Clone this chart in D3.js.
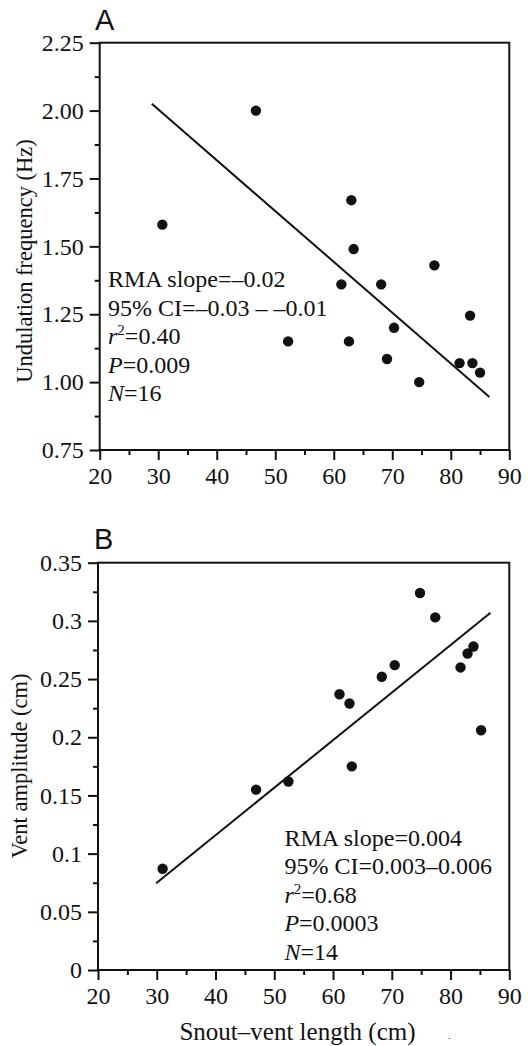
<!DOCTYPE html>
<html>
<head>
<meta charset="utf-8">
<script src="https://cdn.jsdelivr.net/npm/d3@7"></script>
<style>
  body { margin: 0; background: #fff; }
  svg { display: block; }
</style>
</head>
<body>
<div id="chart"></div>
<script>
// Data_______________________________________________________
const svlA = [30.7, 46.7, 52.2, 61.3, 62.6, 63.0, 63.4, 68.1, 69.1, 70.3, 74.6, 77.2, 81.5, 83.3, 83.7, 85.0];
const freqA = [1.58, 2.00, 1.15, 1.36, 1.15, 1.67, 1.49, 1.36, 1.085, 1.20, 1.00, 1.43, 1.07, 1.245, 1.07, 1.035];
const fitA = [[28.9, 2.025], [86.6, 0.945]];

const svlB = [31.0, 46.9, 52.4, 61.1, 62.8, 63.2, 68.3, 70.5, 74.8, 77.4, 81.7, 82.9, 83.9, 85.2];
const ampB = [0.087, 0.155, 0.162, 0.237, 0.229, 0.175, 0.252, 0.262, 0.324, 0.303, 0.260, 0.272, 0.278, 0.206];
const fitB = [[29.9, 0.0745], [86.8, 0.307]];

const xTicks = [20, 30, 40, 50, 60, 70, 80, 90];
const xMinor = [25, 35, 45, 55, 65, 75, 85];
const yTicksA = [0.75, 1.00, 1.25, 1.50, 1.75, 2.00, 2.25];
const yLabelsA = ["0.75", "1.00", "1.25", "1.50", "1.75", "2.00", "2.25"];
const yMinorA = [0.875, 1.125, 1.375, 1.625, 1.875, 2.125];
const yTicksB = [0, 0.05, 0.1, 0.15, 0.2, 0.25, 0.3, 0.35];
const yLabelsB = ["0", "0.05", "0.1", "0.15", "0.2", "0.25", "0.3", "0.35"];
const yMinorB = [0.025, 0.075, 0.125, 0.175, 0.225, 0.275, 0.325];

// stats text, each line is a list of [text, style] pieces
const statsA = [
  [["RMA slope=\u20130.02", ""]],
  [["95% CI=\u20130.03 \u2013 \u20130.01", ""]],
  [["r", "i"], ["2", "sup"], ["=0.40", ""]],
  [["P", "i"], ["=0.009", ""]],
  [["N", "i"], ["=16", ""]]
];
const statsB = [
  [["RMA slope=0.004", ""]],
  [["95% CI=0.003\u20130.006", ""]],
  [["r", "i"], ["2", "sup"], ["=0.68", ""]],
  [["P", "i"], ["=0.0003", ""]],
  [["N", "i"], ["=14", ""]]
];

// Layout________________________________________________________
const width = 528, height = 1046;
const serif = '"Liberation Serif", "Times New Roman", serif';
const ink = '#111';

const svg = d3.select('#chart')
  .append('svg')
  .attr('width', width)
  .attr('height', height);

function drawPanel(cfg) {
  const x = d3.scaleLinear().domain([20, 90]).range([cfg.left, cfg.right]);
  const y = d3.scaleLinear().domain(cfg.yDomain).range([cfg.bottom, cfg.top]);
  const g = svg.append('g');

  // minor ticks
  g.append('g')
    .attr('transform', `translate(0, ${cfg.bottom})`)
    .call(d3.axisBottom(x).tickValues(xMinor).tickSize(5).tickSizeOuter(0).tickFormat(''))
    .call(a => a.select('.domain').remove());
  g.append('g')
    .attr('transform', `translate(${cfg.left}, 0)`)
    .call(d3.axisLeft(y).tickValues(cfg.yMinor).tickSize(5).tickSizeOuter(0).tickFormat(''))
    .call(a => a.select('.domain').remove());

  // major ticks + labels
  g.append('g')
    .attr('transform', `translate(0, ${cfg.bottom})`)
    .call(d3.axisBottom(x).tickValues(xTicks).tickSize(10).tickPadding(7).tickSizeOuter(0))
    .call(a => a.select('.domain').remove());
  g.append('g')
    .attr('transform', `translate(${cfg.left}, 0)`)
    .call(d3.axisLeft(y).tickValues(cfg.yTicks).tickSize(10).tickPadding(6).tickSizeOuter(0)
      .tickFormat((d, i) => cfg.yLabels[i]))
    .call(a => a.select('.domain').remove());

  g.selectAll('.tick line').attr('stroke', ink).attr('stroke-width', 2);
  g.selectAll('.tick text')
    .attr('fill', ink)
    .style('font-family', serif)
    .style('font-size', '24px');

  // frame
  g.append('rect')
    .attr('x', cfg.left)
    .attr('y', cfg.top)
    .attr('width', cfg.right - cfg.left)
    .attr('height', cfg.bottom - cfg.top)
    .attr('fill', 'none')
    .attr('stroke', ink)
    .attr('stroke-width', 2);

  // fit line
  g.append('path')
    .datum(cfg.fit)
    .attr('d', d3.line().x(d => x(d[0])).y(d => y(d[1])))
    .attr('fill', 'none')
    .attr('stroke', ink)
    .attr('stroke-width', 2);

  // points
  g.selectAll('circle')
    .data(cfg.xs.map((v, i) => [v, cfg.ys[i]]))
    .enter()
    .append('circle')
    .attr('cx', d => x(d[0]))
    .attr('cy', d => y(d[1]))
    .attr('r', 5.2)
    .attr('fill', ink);

  // panel letter
  g.append('text')
    .attr('x', cfg.labelX)
    .attr('y', cfg.labelY)
    .attr('fill', ink)
    .style('font-family', '"Liberation Sans", Arial, sans-serif')
    .style('font-size', '29px')
    .text(cfg.label);

  // y title
  g.append('text')
    .attr('transform', `translate(${cfg.yTitleX}, ${cfg.yTitleY}) rotate(-90)`)
    .attr('text-anchor', 'middle')
    .attr('fill', ink)
    .style('font-family', serif)
    .style('font-size', '22.5px')
    .text(cfg.yTitle);

  // stats
  const st = g.append('text')
    .attr('fill', ink)
    .style('font-family', serif)
    .style('font-size', '24px');
  cfg.stats.forEach((line, i) => {
    line.forEach((piece, j) => {
      const t = st.append('tspan').text(piece[0]);
      if (j === 0) t.attr('x', cfg.statsX).attr('y', cfg.statsY + i * 28.5);
      if (piece[1] === 'i') t.style('font-style', 'italic');
      if (piece[1] === 'sup') t.style('font-size', '15px').attr('dy', -9);
      if (j > 0 && line[j - 1][1] === 'sup') t.attr('dy', 9);
    });
  });
  return { x, y, g };
}

drawPanel({
  left: 99.7, right: 509.3, top: 42.7, bottom: 450,
  yDomain: [0.75, 2.25], yTicks: yTicksA, yLabels: yLabelsA, yMinor: yMinorA,
  xs: svlA, ys: freqA, fit: fitA,
  label: 'A', labelX: 95, labelY: 29.5,
  yTitle: 'Undulation frequency (Hz)', yTitleX: 32, yTitleY: 261,
  stats: statsA, statsX: 108, statsY: 287
});

drawPanel({
  left: 98, right: 509.3, top: 562.7, bottom: 970,
  yDomain: [0, 0.35], yTicks: yTicksB, yLabels: yLabelsB, yMinor: yMinorB,
  xs: svlB, ys: ampB, fit: fitB,
  label: 'B', labelX: 94, labelY: 548.5,
  yTitle: 'Vent amplitude (cm)', yTitleX: 27, yTitleY: 766,
  stats: statsB, statsX: 284.4, statsY: 845.7
});

// x title (bottom panel only)
svg.append('text')
  .attr('x', 297.5)
  .attr('y', 1040)
  .attr('text-anchor', 'middle')
  .attr('fill', ink)
  .style('font-family', serif)
  .style('font-size', '25px')
  .text('Snout\u2013vent length (cm)');

svg.append('text')
  .attr('x', 448)
  .attr('y', 1039)
  .attr('fill', ink)
  .style('font-family', serif)
  .style('font-size', '10px')
  .text('.');
</script>
</body>
</html>
